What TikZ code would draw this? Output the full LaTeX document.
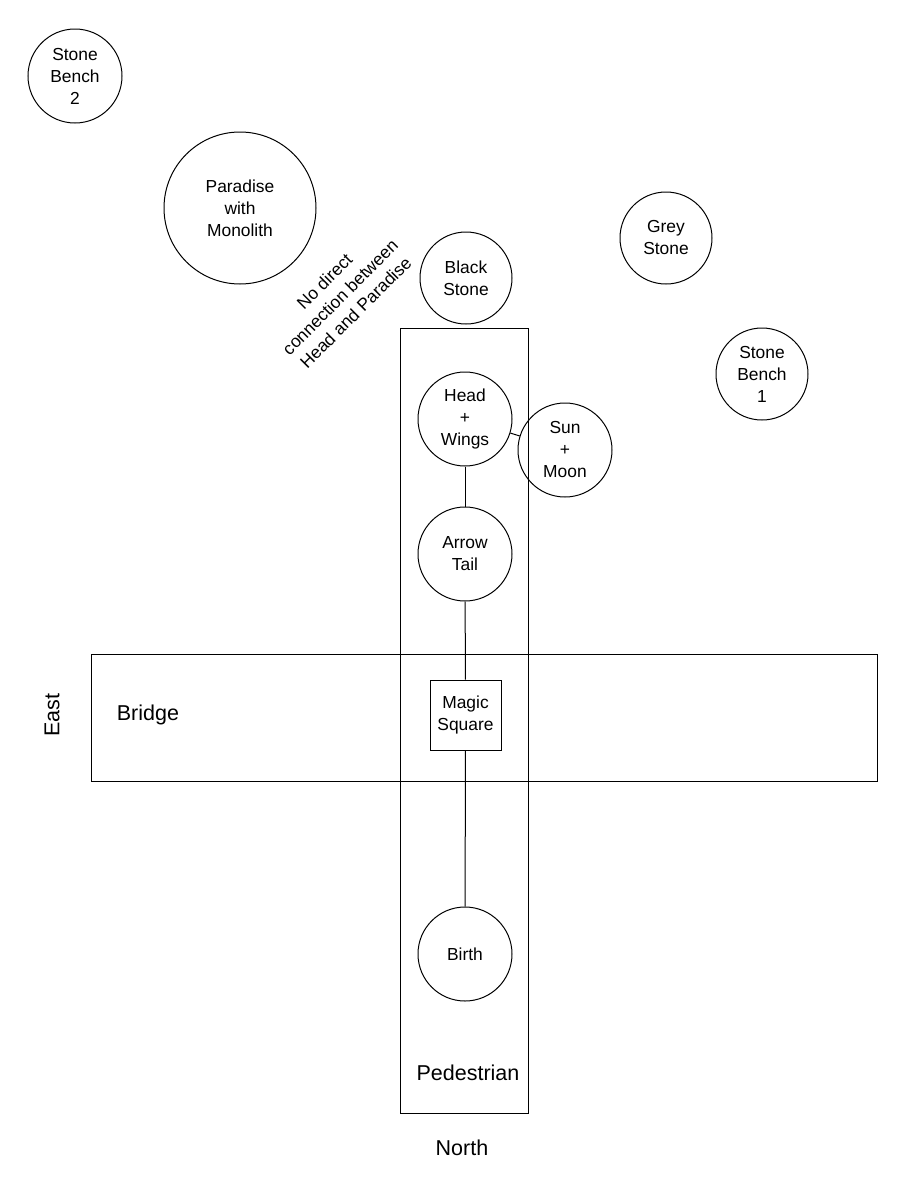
\documentclass[tikz,border=0pt]{standalone}
\usepackage{fontspec}
\setmainfont{Liberation Sans}
\begin{document}
\begin{tikzpicture}[x=1pt,y=-1pt,line width=1pt,
  spot/.style={draw,circle,inner sep=0pt,align=center,font=\fontsize{17.4}{22}\selectfont},
  box/.style={draw,rectangle,inner sep=0pt},
  big/.style={font=\fontsize{21.5}{26}\selectfont},
  small/.style={font=\fontsize{17.4}{22}\selectfont,align=center}]
\useasboundingbox (0,0) rectangle (904,1192);
% streets
\node[box,minimum width=786pt,minimum height=127pt] (bridge) at (484,717.5) {};
\node[box,minimum width=128pt,minimum height=785pt] (ped) at (464,720.5) {};
% circles
\node[spot,minimum size=94pt] (bench2) at (75,76) {Stone\\Bench\\2};
\node[spot,minimum size=152pt] (paradise) at (240,208) {Paradise\\with\\Monolith};
\node[spot,minimum size=92pt] (black) at (466,278) {Black\\Stone};
\node[spot,minimum size=92pt] (grey) at (666,238) {Grey\\Stone};
\node[spot,minimum size=92pt] (bench1) at (762,374) {Stone\\Bench\\1};
\node[spot,minimum size=94pt] (head) at (465,419) {Head\\+\\Wings};
\node[spot,minimum size=94pt] (sun) at (565,450) {Sun\\+\\Moon};
\node[spot,minimum size=94pt] (tail) at (465,554) {Arrow\\Tail};
\node[box,minimum width=71pt,minimum height=70pt,align=center,font=\fontsize{17.4}{22}\selectfont] (magic) at (465.5,715) {Magic\\Square};
\node[spot,minimum size=94pt] (birth) at (465,954) {Birth};
% connectors
\draw (head) -- (sun);
\draw (head) -- (tail);
\draw (tail) -- (magic);
\draw (magic) -- (birth);
% labels
\node[big,anchor=west] (bridgelbl) at (113,715) {Bridge};
\node[big] (pedlbl) at (468,1073) {Pedestrian};
\node[big,rotate=90] (east) at (52,715) {East};
\node[big] (north) at (462,1148) {North};
\node[small,rotate=45] (note) at (340,297) {No direct\\connection between\\Head and Paradise};
\end{tikzpicture}
\end{document}
